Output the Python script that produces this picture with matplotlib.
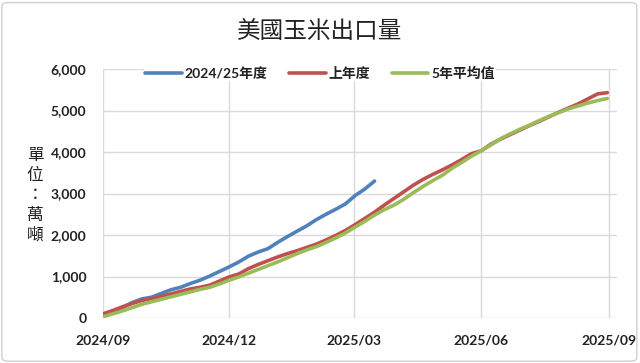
import matplotlib
matplotlib.use('Agg')
import matplotlib.pyplot as plt
import matplotlib.dates as mdates
from matplotlib.patches import FancyBboxPatch
import pandas as pd

plt.rcParams['font.family'] = ['Lato', 'Noto Sans CJK TC', 'DejaVu Sans']

# weekly cumulative exports (10k tonnes), marketing year starting Sep 1
week_days = [0, 7, 14, 21, 28, 35, 42, 49, 56, 63, 70, 77, 84, 91, 98, 105, 112,
             119, 126, 133, 140, 147, 154, 161, 168, 175, 182, 189, 196, 203, 210,
             217, 224, 231, 238, 245, 252, 259, 266, 273, 280, 287, 294, 301, 308,
             315, 322, 329, 336, 343, 350, 357, 364]

current = [80, 160, 250, 370, 460, 500, 590, 680, 740, 830, 910, 1010, 1120, 1230,
           1350, 1490, 1590, 1670, 1820, 1960, 2090, 2220, 2370, 2500, 2620, 2750,
           2950, 3110, 3300]

last_year = [100, 180, 270, 350, 420, 470, 520, 580, 640, 700, 740, 790, 890, 990,
             1060, 1190, 1290, 1380, 1470, 1550, 1620, 1700, 1780, 1880, 1990, 2110,
             2250, 2400, 2550, 2720, 2880, 3040, 3200, 3340, 3460, 3570, 3690, 3820,
             3960, 4030, 4190, 4310, 4420, 4530, 4640, 4740, 4850, 4960, 5060, 5160,
             5280, 5400, 5430]

avg5 = [30, 100, 170, 250, 330, 390, 450, 510, 570, 630, 690, 740, 820, 910, 990,
        1080, 1170, 1260, 1350, 1450, 1550, 1640, 1720, 1820, 1930, 2050, 2190, 2330,
        2480, 2610, 2720, 2860, 3020, 3170, 3310, 3440, 3610, 3750, 3900, 4030, 4170,
        4320, 4440, 4550, 4650, 4760, 4860, 4950, 5040, 5110, 5180, 5240, 5290]

labels = ['2024/25年度', '上年度', '5年平均值']
colors = ['#4F81BD', '#C0504D', '#9BBB59']
tick_dates = ['2024-09-01', '2024-12-01', '2025-03-01', '2025-06-01', '2025-09-01']
y_ticks = [0, 1000, 2000, 3000, 4000, 5000, 6000]

start = pd.Timestamp('2024-09-01')
dates = [start + pd.Timedelta(days=d) for d in week_days]

fig = plt.figure(figsize=(6.4, 3.63), dpi=100)
ax = fig.add_axes([103 / 640, 1 - 318 / 363, (617 - 103) / 640, (318 - 69) / 363])

ax.plot(dates[:len(current)], current, color=colors[0], lw=2.6, label=labels[0],
        solid_capstyle='round')
ax.plot(dates, last_year, color=colors[1], lw=2.6, label=labels[1],
        solid_capstyle='round')
ax.plot(dates, avg5, color=colors[2], lw=2.6, label=labels[2],
        solid_capstyle='round')

ax.set_xlim(start, pd.Timestamp('2025-09-07'))
ax.set_ylim(0, 6000)
ax.set_yticks(y_ticks)
ax.set_yticklabels([f'{v:,}' for v in y_ticks])
ax.set_xticks([pd.Timestamp(d) for d in tick_dates])
ax.xaxis.set_major_formatter(mdates.DateFormatter('%Y/%m'))
ax.grid(True, color='#d9d9d9', lw=1)
ax.set_axisbelow(True)
for s in ax.spines.values():
    s.set_visible(False)
ax.tick_params(length=0, labelsize=10, pad=12)
for t in ax.get_xticklabels() + ax.get_yticklabels():
    t.set_fontweight('bold')
    t.set_color('#222222')

fig.text(0.5, 1 - 32 / 363, '美國玉米出口量', ha='center', va='center',
         fontsize=17, color='#222222')
fig.text(35 / 640, 1 - 195 / 363, '\n'.join('單位：萬噸'), ha='center', va='center',
         fontsize=12, color='#222222', linespacing=1.3)

leg = ax.legend(loc='center', bbox_to_anchor=(0.5, 1 - 73 / 363),
                bbox_transform=fig.transFigure, ncol=3, frameon=True,
                facecolor='white', edgecolor='none', framealpha=1,
                handlelength=2.6, handletextpad=0.2, columnspacing=1.6,
                borderpad=0.1, prop={'weight': 'bold', 'size': 10})
for t in leg.get_texts():
    t.set_color('#222222')

border = FancyBboxPatch((0.003, 0.005), 0.992, 0.988, boxstyle='round,pad=0,rounding_size=0.01',
                        transform=fig.transFigure, fill=False, edgecolor='#d0d0d0', lw=1)
fig.patches.append(border)

fig.savefig('out.png', dpi=100)
